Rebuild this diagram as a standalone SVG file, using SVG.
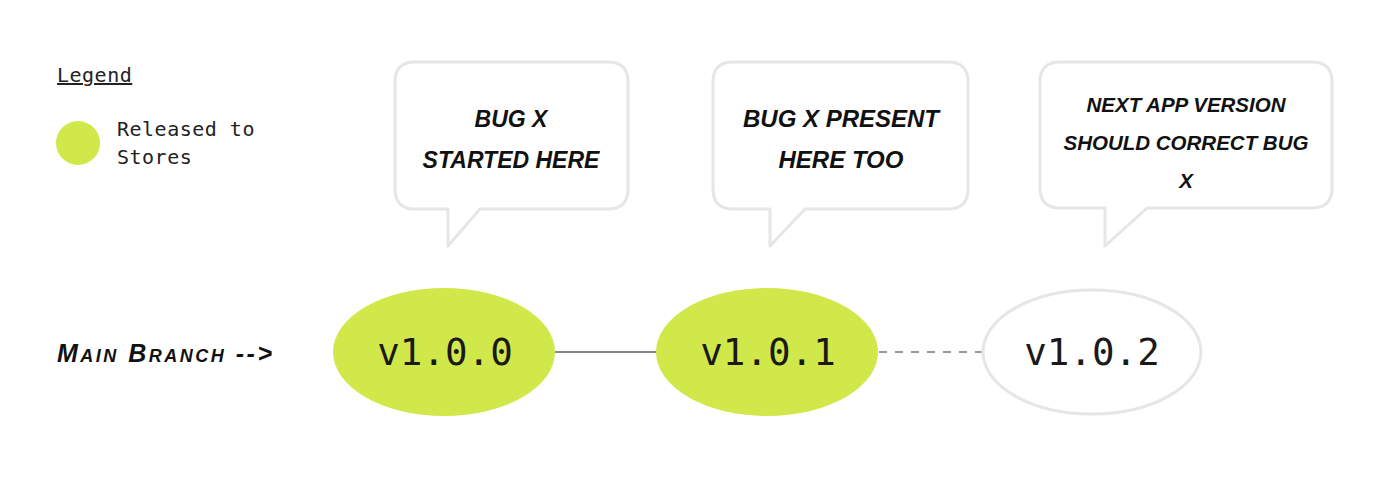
<svg xmlns="http://www.w3.org/2000/svg" width="1400" height="496" viewBox="0 0 1400 496">
<style>
.bubble{fill:#fff;stroke:#e6e6e6;stroke-width:3;stroke-linejoin:round}
.hand{font-family:"Liberation Sans",Arial,sans-serif;font-weight:bold;font-style:italic;fill:#111;text-anchor:middle}
.branch{font-family:"Liberation Sans",Arial,sans-serif;font-weight:bold;font-style:italic;fill:#111;text-anchor:start;font-size:25px;font-variant:small-caps;letter-spacing:2.5px}
.mono{font-family:"DejaVu Sans Mono","Liberation Mono",monospace;fill:#222;font-size:20px;letter-spacing:0.5px}
.ver{font-family:"DejaVu Sans Mono","Liberation Mono",monospace;font-size:37.5px;fill:#1a1a1a;text-anchor:middle}
.rel{fill:#d0e84a}
</style>
<rect width="1400" height="496" fill="#fff"/>
<g id="legend">
<text class="mono" x="57" y="82" text-decoration="underline">Legend</text>
<circle class="rel" cx="78" cy="143" r="22"/>
<text class="mono" x="117" y="136">Released to</text>
<text class="mono" x="117" y="164">Stores</text>
</g>
<g id="main-branch-label">
<text class="branch" x="57" y="362">Main Branch --&gt;</text>
</g>
<g id="connectors">
<line x1="555" y1="352" x2="657" y2="352" stroke="#888" stroke-width="2"/>
<line x1="879" y1="352" x2="982" y2="352" stroke="#999" stroke-width="2" stroke-dasharray="8 8"/>
</g>
<g id="bubble1">
<path class="bubble" d="M415 62 H608 Q628 62 628 82 V189 Q628 209 608 209 H480 L448 246 V209 H415 Q395 209 395 189 V82 Q395 62 415 62 Z"/>
<text class="hand" x="511" y="127" font-size="23">BUG X</text>
<text class="hand" x="511" y="168" font-size="23">STARTED HERE</text>
</g>
<g id="bubble2">
<path class="bubble" d="M733 62 H948 Q968 62 968 82 V189 Q968 209 948 209 H805 L770 246 V209 H733 Q713 209 713 189 V82 Q713 62 733 62 Z"/>
<text class="hand" x="841" y="127" font-size="24">BUG X PRESENT</text>
<text class="hand" x="841" y="168" font-size="24">HERE TOO</text>
</g>
<g id="bubble3">
<path class="bubble" d="M1060 62 H1312 Q1332 62 1332 82 V188 Q1332 208 1312 208 H1147 L1105 246 V208 H1060 Q1040 208 1040 188 V82 Q1040 62 1060 62 Z"/>
<text class="hand" x="1186" y="112" font-size="20.5">NEXT APP VERSION</text>
<text class="hand" x="1186" y="150" font-size="20.5">SHOULD CORRECT BUG</text>
<text class="hand" x="1186" y="188" font-size="20.5">X</text>
</g>
<g id="v100">
<ellipse class="rel" cx="444" cy="352" rx="111" ry="64"/>
<text class="ver" x="445" y="365">v1.0.0</text>
</g>
<g id="v101">
<ellipse class="rel" cx="767" cy="352" rx="111" ry="64"/>
<text class="ver" x="768" y="365">v1.0.1</text>
</g>
<g id="v102">
<ellipse cx="1092" cy="352" rx="109" ry="62" fill="#fff" stroke="#e6e6e6" stroke-width="3"/>
<text class="ver" x="1092" y="365">v1.0.2</text>
</g>
</svg>
